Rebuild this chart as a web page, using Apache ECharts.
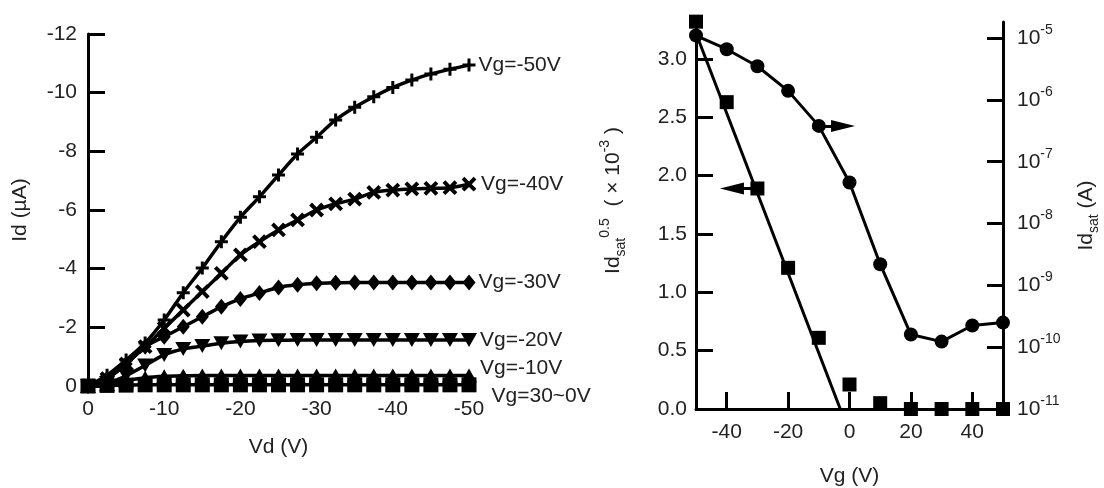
<!DOCTYPE html>
<html>
<head>
<meta charset="utf-8">
<script src="https://cdn.jsdelivr.net/npm/echarts@6/dist/echarts.min.js"></script>
<style>
  html, body { margin: 0; padding: 0; background: #fff; }
  #chart { width: 1104px; height: 488px; }
</style>
</head>
<body>
<div id="chart"></div>
<script>
// ---- left panel: output curves, Id vs Vd ----
const vd = [0, -2.5, -5, -7.5, -10, -12.5, -15, -17.5, -20, -22.5, -25,
  -27.5, -30, -32.5, -35, -37.5, -40, -42.5, -45, -47.5, -50];

const idVg50 = [0, -0.37, -0.89, -1.47, -2.25, -3.18, -4.02, -4.92, -5.75, -6.45, -7.19,
  -7.91, -8.48, -9.07, -9.5, -9.86, -10.18, -10.43, -10.64, -10.8, -10.94];
const idVg40 = [0, -0.25, -0.75, -1.34, -1.97, -2.59, -3.22, -3.84, -4.47, -4.92, -5.32,
  -5.66, -6.0, -6.21, -6.37, -6.6, -6.68, -6.72, -6.74, -6.76, -6.88];
const idVg30 = [0, -0.25, -0.75, -1.34, -1.68, -2.02, -2.36, -2.7, -2.97, -3.17, -3.36,
  -3.45, -3.5, -3.52, -3.53, -3.53, -3.53, -3.53, -3.53, -3.53, -3.53];
const idVg20 = [0, -0.1, -0.35, -0.7, -1.06, -1.26, -1.36, -1.46, -1.52, -1.55, -1.56,
  -1.57, -1.57, -1.57, -1.57, -1.57, -1.57, -1.57, -1.57, -1.57, -1.57];
const idVg10 = [0, -0.06, -0.18, -0.28, -0.33, -0.35, -0.36, -0.36, -0.36, -0.36, -0.36,
  -0.36, -0.36, -0.36, -0.36, -0.36, -0.36, -0.36, -0.36, -0.36, -0.36];
const idVg0 = [0, -0.02, -0.03, -0.04, -0.04, -0.04, -0.04, -0.04, -0.04, -0.04, -0.04,
  -0.04, -0.04, -0.04, -0.04, -0.04, -0.04, -0.04, -0.04, -0.04, -0.04];

// ---- right panel: transfer curve ----
const vg = [-50, -40, -30, -20, -10, 0, 10, 20, 30, 40, 50];
const sqrtIdSat = [3.32, 2.63, 1.89, 1.21, 0.61, 0.21, 0.05, 0, 0, 0, 0]; // x1e-3
const idSat = [1.1e-5, 6.6e-6, 3.5e-6, 1.4e-6, 3.8e-7, 4.6e-8, 2.2e-9, 1.6e-10, 1.23e-10, 2.24e-10, 2.5e-10];
const fitVg = [-50, -3];
const fitSqrt = [3.22, 0];

const vgTicks = [-40, -20, 0, 20, 40];
const sqrtTicks = [0, 0.5, 1.0, 1.5, 2.0, 2.5, 3.0];
const logTicks = [1e-11, 1e-10, 1e-9, 1e-8, 1e-7, 1e-6, 1e-5];

const FONT = "'Liberation Sans', Arial, sans-serif";
const TXT = "#222";
const BLACK = "#000";

const plusPath = "path://M5,0H8V5H13V8H8V13H5V8H0V5H5Z";

const dom = document.getElementById("chart");
const myChart = echarts.init(dom);

function curve(name, ys, symbol, size, rotate, labelOffset) {
  const data = vd.map((x, i) => [x, ys[i]]);
  const last = data.length - 1;
  data[last] = {
    value: data[last],
    label: {
      show: true,
      position: "right",
      distance: 3,
      offset: labelOffset,
      formatter: name,
      color: TXT,
      fontSize: 21,
      fontFamily: FONT,
    },
  };
  return {
    name: name,
    type: "line",
    xAxisIndex: 0,
    yAxisIndex: 0,
    smooth: 0.3,
    symbol: symbol,
    symbolSize: size,
    symbolRotate: rotate,
    showAllSymbol: true,
    clip: false,
    lineStyle: { color: BLACK, width: 3.5 },
    itemStyle: { color: BLACK, opacity: 1 },
    data: data,
  };
}

const nameRich = {
  m: { fontSize: 21, fontFamily: FONT, color: TXT, lineHeight: 30 },
  sub: { fontSize: 14, fontFamily: FONT, color: TXT, lineHeight: 14, verticalAlign: "bottom" },
  sup: { fontSize: 14, fontFamily: FONT, color: TXT, lineHeight: 14, verticalAlign: "top" },
};

const axisLineStyle = { color: BLACK, width: 3 };

const option = {
  animation: false,
  backgroundColor: "#fff",
  grid: [
    { left: 88, right: 635, top: 34, bottom: 102, outerBoundsMode: "none" },
    { left: 696, right: 101, top: 22, bottom: 79, outerBoundsMode: "none" },
  ],
  xAxis: [
    {
      gridIndex: 0,
      type: "value",
      min: -50,
      max: 0,
      interval: 10,
      inverse: true,
      axisLine: { show: false, onZero: false },
      axisTick: { show: false },
      splitLine: { show: false },
      axisLabel: { color: TXT, fontSize: 21, fontFamily: FONT, margin: 13 },
      name: "Vd (V)",
      nameLocation: "middle",
      nameGap: 51,
      nameTextStyle: { color: TXT, fontSize: 21, fontFamily: FONT },
    },
    {
      gridIndex: 1,
      type: "value",
      min: -50,
      max: 50,
      axisLine: { show: true, onZero: false, lineStyle: axisLineStyle },
      axisTick: { show: true, inside: true, length: 17, customValues: vgTicks, lineStyle: axisLineStyle },
      splitLine: { show: false },
      axisLabel: { color: TXT, fontSize: 21, fontFamily: FONT, margin: 13, customValues: vgTicks },
      name: "Vg (V)",
      nameLocation: "middle",
      nameGap: 57,
      nameTextStyle: { color: TXT, fontSize: 21, fontFamily: FONT },
    },
  ],
  yAxis: [
    {
      gridIndex: 0,
      type: "value",
      min: -12,
      max: 0,
      interval: 2,
      inverse: true,
      axisLine: { show: true, onZero: false, lineStyle: axisLineStyle },
      axisTick: { show: true, inside: true, length: 17, lineStyle: axisLineStyle },
      splitLine: { show: false },
      axisLabel: { color: TXT, fontSize: 21, fontFamily: FONT, margin: 11 },
      name: "Id (µA)",
      nameLocation: "middle",
      nameGap: 57,
      nameTextStyle: { color: TXT, fontSize: 21, fontFamily: FONT },
    },
    {
      gridIndex: 1,
      type: "value",
      min: 0,
      max: 3.317,
      axisLine: { show: true, onZero: false, lineStyle: axisLineStyle },
      axisTick: { show: true, inside: true, length: 17, customValues: sqrtTicks.slice(1), lineStyle: axisLineStyle },
      splitLine: { show: false },
      axisLabel: {
        color: TXT, fontSize: 21, fontFamily: FONT, margin: 9,
        customValues: sqrtTicks,
        formatter: (v) => v.toFixed(1),
      },
      name: "{m|Id}{sub|sat}{sup|0.5}{m|  ( × 10}{sup|-3}{m| )}",
      nameLocation: "middle",
      nameGap: 68,
      nameTextStyle: { color: TXT, fontSize: 21, fontFamily: FONT, rich: nameRich, padding: [0, 0, 0, 30] },
    },
    {
      gridIndex: 1,
      type: "log",
      logBase: 10,
      position: "right",
      min: 1e-11,
      max: 1.82e-5,
      axisLine: { show: true, onZero: false, lineStyle: axisLineStyle },
      axisTick: { show: true, inside: true, length: 16, customValues: logTicks, lineStyle: axisLineStyle },
      splitLine: { show: false },
      axisLabel: {
        margin: 14,
        customValues: logTicks,
        formatter: (v) => "{b|10}{s|" + Math.round(Math.log10(v)) + "}",
        rich: {
          b: { fontSize: 21, fontFamily: FONT, color: TXT, lineHeight: 30 },
          s: { fontSize: 14, fontFamily: FONT, color: TXT, lineHeight: 14, verticalAlign: "top" },
        },
      },
      name: "{m|Id}{sub|sat}{m| (A)}",
      nameLocation: "middle",
      nameGap: 68,
      nameTextStyle: { color: TXT, fontSize: 21, fontFamily: FONT, rich: nameRich },
    },
  ],
  series: [
    curve("Vg=30~0V", idVg0, "rect", 15, 0, [12, 11]),
    curve("Vg=-10V", idVg10, "triangle", [16, 14], 0, [0, -7]),
    curve("Vg=-20V", idVg20, "triangle", [16, 14], 180, [0, 0]),
    curve("Vg=-30V", idVg30, "diamond", [13, 16], 0, [0, 0]),
    curve("Vg=-40V", idVg40, plusPath, 17, 45, [-3, 0]),
    curve("Vg=-50V", idVg50, plusPath, 13, 0, [0, 0]),
    {
      name: "fit",
      type: "line",
      xAxisIndex: 1,
      yAxisIndex: 1,
      showSymbol: false,
      clip: false,
      lineStyle: { color: BLACK, width: 3 },
      data: fitVg.map((x, i) => [x, fitSqrt[i]]),
      markLine: {
        silent: true,
        animation: false,
        symbol: ["none", "triangle"],
        lineStyle: { color: BLACK, width: 3, type: "solid" },
        label: { show: false },
        data: [[
          { coord: [-30, 1.89], symbol: "none" },
          { coord: [-38.3, 1.89], symbol: "triangle", symbolSize: [12, 24] },
        ]],
      },
    },
    {
      name: "sqrt Id",
      type: "scatter",
      xAxisIndex: 1,
      yAxisIndex: 1,
      symbol: "rect",
      symbolSize: 14,
      clip: false,
      itemStyle: { color: BLACK, opacity: 1 },
      data: vg.map((x, i) => [x, sqrtIdSat[i]]),
    },
    {
      name: "Id sat",
      type: "line",
      xAxisIndex: 1,
      yAxisIndex: 2,
      symbol: "circle",
      symbolSize: 14,
      clip: false,
      lineStyle: { color: BLACK, width: 3 },
      itemStyle: { color: BLACK, opacity: 1 },
      data: vg.map((x, i) => [x, idSat[i]]),
      markLine: {
        silent: true,
        animation: false,
        symbol: ["none", "triangle"],
        lineStyle: { color: BLACK, width: 3, type: "solid" },
        label: { show: false },
        data: [[
          { coord: [-10, 3.8e-7], symbol: "none" },
          { coord: [-2.1, 3.8e-7], symbol: "triangle", symbolSize: [12, 24] },
        ]],
      },
    },
  ],
};

option && myChart.setOption(option);
</script>
</body>
</html>
